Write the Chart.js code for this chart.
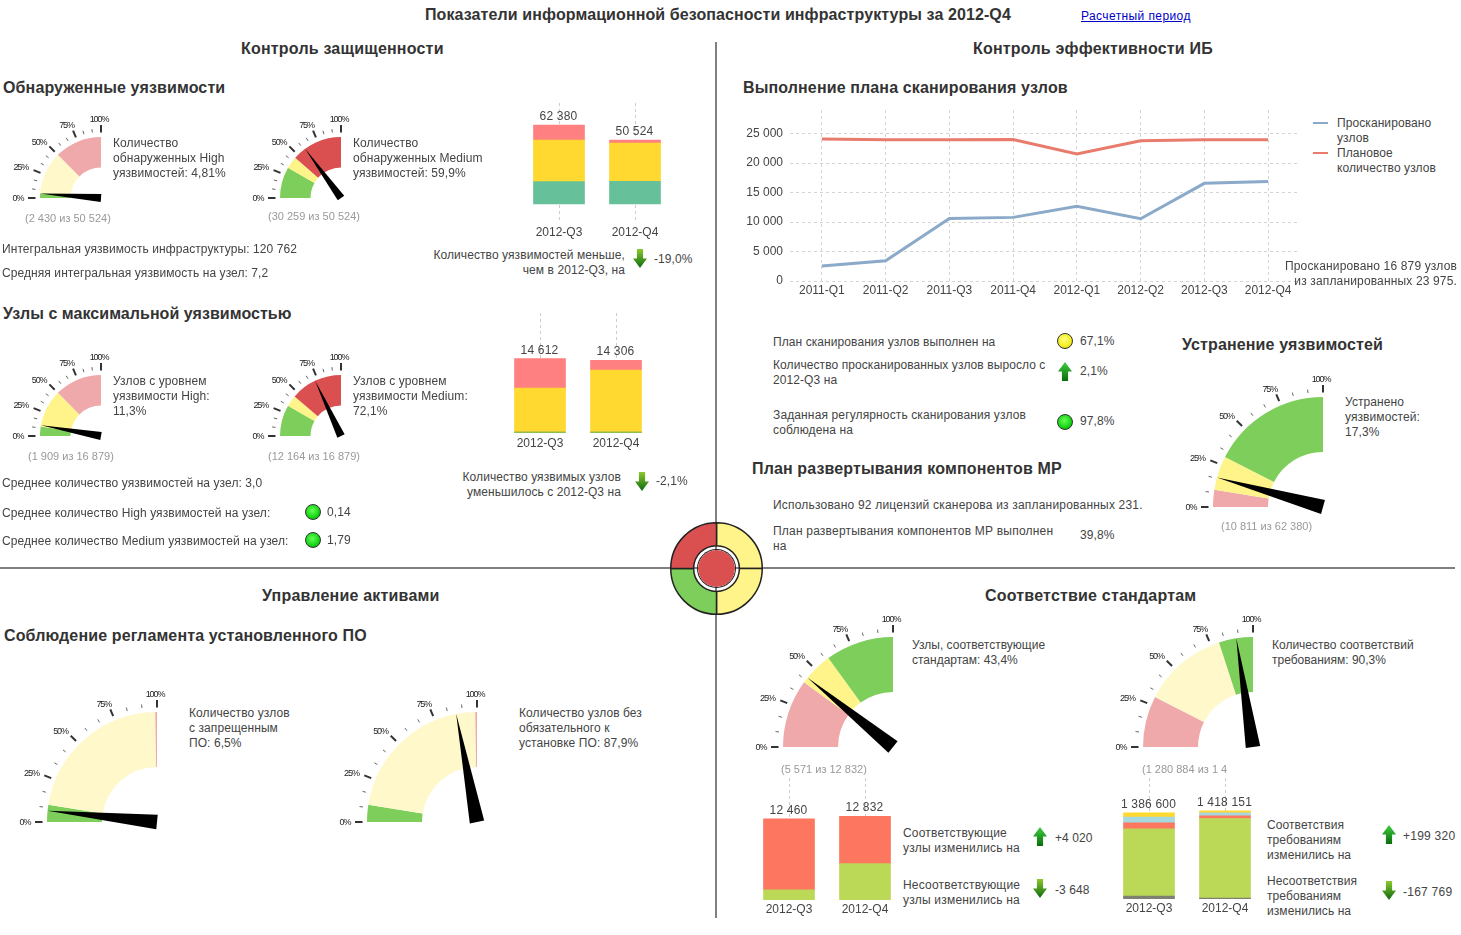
<!DOCTYPE html>
<html>
<head>
<meta charset="utf-8">
<script src="https://cdn.jsdelivr.net/npm/chart.js@4"></script>
<style>
    body { margin: 0; background: #fff; width: 1461px; height: 935px; overflow: hidden; position: relative; font-family: "Liberation Sans", Arial, sans-serif; color: #444; }
    canvas { position: absolute; }
    .t { position: absolute; white-space: pre; font-size: 12px; line-height: 15px; letter-spacing: 0.08px; }
    .rule { position: absolute; background: #808080; }
    .ball { position: absolute; width: 14px; height: 14px; border-radius: 50%; border: 1px solid #333; }
    .arrow { position: absolute; width: 14px; height: 19px; }
</style>
</head>
<body>
<script>
const gaugeTickLabels = ['0%', '25%', '50%', '75%', '100%'];
const quarters = ['2012-Q3', '2012-Q4'];
const scanPeriods = ['2011-Q1', '2011-Q2', '2011-Q3', '2011-Q4', '2012-Q1', '2012-Q2', '2012-Q3', '2012-Q4'];
const scanTicks = [0, 5000, 10000, 15000, 20000, 25000];

// zone widths in percent + needle value for every gauge
const highVulnZones = [5, 45, 50];
const highVulnValue = 4.81;
const mediumVulnZones = [33, 13, 54];
const mediumVulnValue = 59.9;
const highNodesZones = [10, 40, 50];
const highNodesValue = 11.3;
const mediumNodesZones = [33, 12, 55];
const mediumNodesValue = 72.1;
const fixedZones = [10, 20, 70];
const fixedValue = 17.3;
const forbiddenZones = [10, 89, 1];
const forbiddenValue = 6.5;
const missingZones = [10, 89, 1];
const missingValue = 87.9;
const compliantNodesZones = [40, 20, 40];
const compliantNodesValue = 43.4;
const compliantReqZones = [30, 50, 20];
const compliantReqValue = 90.3;

const vulnGreen = [17680, 17835];
const vulnYellow = [32800, 30259];
const vulnRed = [11900, 2430];

const nodesGreen = [233, 233];
const nodesYellow = [8579, 12164];
const nodesRed = [5800, 1909];

const stdGreen = [1551, 5571];
const stdRed = [10909, 7261];

const reqGray = [48000, 14000];
const reqGreen = [1081564, 1280884];
const reqRed = [96000, 45000];
const reqBlue = [92000, 48000];
const reqYellow = [69036, 30267];

const scannedNodes = [2540, 3440, 10620, 10790, 12660, 10560, 16560, 16879];
const plannedNodes = [24100, 23950, 23950, 24000, 21550, 23800, 23950, 23975];
const scanLegend = ['Просканировано\nузлов', 'Плановое\nколичество узлов'];

const statusQuadrants = [1, 1, 1, 1];
const statusScore = [1];

const C = {
    green: '#7dce5a', yellow: '#fff48a', paleYellow: '#fff8cb', red: '#da5050', pink: '#f0a9aa',
    barRed: '#ff8080', barYellow: '#ffd92f', barGreen: '#66c09a', leaf: '#bbd856', coral: '#fd7660', sky: '#a6d8e0', stone: '#808070'
};

const spaced = n => String(n).replace(/\B(?=(\d{3})+$)/g, ' ');

function addCanvas(left, top, w, h) {
    const c = document.createElement('canvas');
    c.width = w;
    c.height = h;
    c.style.left = left + 'px';
    c.style.top = top + 'px';
    c.style.width = w + 'px';
    c.style.height = h + 'px';
    document.body.appendChild(c);
    return c;
}

// y is the centre of the first line
function t(x, y, str, o = {}) {
    const d = document.createElement('div');
    d.className = 't';
    d.textContent = str;
    const lh = o.lh || 15;
    d.style.top = (y - lh / 2) + 'px';
    d.style.lineHeight = lh + 'px';
    if (o.right) {
        d.style.right = (1461 - x) + 'px';
        d.style.textAlign = 'right';
    } else {
        d.style.left = x + 'px';
    }
    if (o.size) d.style.fontSize = o.size + 'px';
    if (o.bold) d.style.fontWeight = 'bold';
    if (o.color) d.style.color = o.color;
    if (o.spacing !== undefined) d.style.letterSpacing = o.spacing + 'px';
    if (o.link) d.style.textDecoration = 'underline';
    document.body.appendChild(d);
    return d;
}

function ball(x, y, kind) {
    const d = document.createElement('div');
    d.className = 'ball';
    d.style.left = (x - 8) + 'px';
    d.style.top = (y - 8) + 'px';
    d.style.background = kind === 'yellow'
        ? 'radial-gradient(circle at 45% 40%, #ffff80 0%, #f5ee20 60%, #b5a800 100%)'
        : 'radial-gradient(circle at 45% 40%, #66ff55 0%, #14d414 60%, #058a05 100%)';
    document.body.appendChild(d);
}

function arrow(x, y, up) {
    const d = document.createElement('div');
    d.className = 'arrow';
    d.style.left = (x - 7) + 'px';
    d.style.top = (y - 10) + 'px';
    d.style.background = up ? 'linear-gradient(#3fcf3f, #0b6b0b)' : 'linear-gradient(#8fc830, #0a6a10)';
    d.style.clipPath = up
        ? 'polygon(50% 0, 100% 50%, 72% 50%, 72% 100%, 28% 100%, 28% 50%, 0 50%)'
        : 'polygon(28% 0, 72% 0, 72% 50%, 100% 50%, 50% 100%, 0 50%, 28% 50%)';
    document.body.appendChild(d);
}

function rule(x, y, w, h, color) {
    const d = document.createElement('div');
    d.className = 'rule';
    d.style.cssText = `left:${x}px;top:${y}px;width:${w}px;height:${h}px`;
    if (color) d.style.background = color;
    document.body.appendChild(d);
}

const gaugeDial = {
    id: 'gaugeDial',
    afterDraw(chart, args, opts) {
        const arc = chart.getDatasetMeta(0).data[0];
        const ctx = chart.ctx, cx = arc.x, cy = arc.y, R = arc.outerRadius;
        ctx.save();
        ctx.lineCap = 'butt';
        for (let i = 0; i <= 12; i++) {
            const a = i / 12 * Math.PI / 2, major = i % 3 === 0;
            const r1 = R + (major ? 4.5 : 5), r2 = R + (major ? 12 : 8.5);
            ctx.beginPath();
            ctx.moveTo(cx - r1 * Math.cos(a), cy - r1 * Math.sin(a));
            ctx.lineTo(cx - r2 * Math.cos(a), cy - r2 * Math.sin(a));
            ctx.lineWidth = major ? 2 : 1;
            ctx.strokeStyle = major ? '#333' : '#666';
            ctx.stroke();
        }
        ctx.font = '9px "Liberation Sans"';
        ctx.letterSpacing = '-1.1px';
        ctx.fillStyle = '#222';
        ctx.textAlign = 'center';
        ctx.textBaseline = 'middle';
        const nudgeX = [1, -3, -3.5, -3.5, -2];
        const nudgeY = [1, 2, 2.5, 2.5, 1];
        gaugeTickLabels.forEach((label, i) => {
            const a = i / 4 * Math.PI / 2, r = R + 18 + 5 * Math.cos(a);
            ctx.fillText(label, cx - r * Math.cos(a) + nudgeX[i], cy - r * Math.sin(a) + nudgeY[i]);
        });
        // needle: tip on the outer edge, wide tail on the pivot
        const a = opts.value / 100 * Math.PI / 2;
        const ux = Math.cos(a), uy = Math.sin(a);
        const w = R > 80 ? 7.3 : 4;
        ctx.beginPath();
        ctx.moveTo(cx - R * ux, cy - R * uy);
        ctx.lineTo(cx - w * uy, cy + w * ux);
        ctx.lineTo(cx + w * uy, cy - w * ux);
        ctx.closePath();
        ctx.fillStyle = '#000';
        ctx.fill();
        ctx.restore();
    }
};

function gauge(cx, cy, R, zones, value, colors) {
    const pad = { left: 46, top: 30, right: 16, bottom: 16 };
    const c = addCanvas(cx - R - pad.left, cy - R - pad.top, R + pad.left + pad.right, R + pad.top + pad.bottom);
    new Chart(c, {
        type: 'doughnut',
        data: { datasets: [{ data: zones, backgroundColor: colors, borderWidth: 0 }] },
        options: {
            responsive: false,
            animation: false,
            rotation: -90,
            circumference: 90,
            cutout: '50%',
            layout: { padding: pad },
            plugins: { legend: { display: false }, tooltip: { enabled: false }, gaugeDial: { value } }
        },
        plugins: [gaugeDial]
    });
}

const barTotals = {
    id: 'barTotals',
    afterDraw(chart) {
        const ctx = chart.ctx, last = chart.data.datasets.length - 1;
        ctx.save();
        ctx.font = '12px "Liberation Sans"';
        ctx.letterSpacing = '0.2px';
        ctx.fillStyle = '#444';
        ctx.textAlign = 'center';
        ctx.textBaseline = 'middle';
        chart.getDatasetMeta(last).data.forEach((bar, i) => {
            const total = chart.data.datasets.reduce((s, d) => s + d.data[i], 0);
            ctx.fillText(spaced(total), bar.x - 0.5, bar.y - 8.5);
        });
        ctx.restore();
    }
};

function stackedBars(firstCenter, plotTop, plotBottom, yMin, yMax, series, colors, tickPad) {
    const labelH = 20;
    const c = addCanvas(firstCenter - 38, plotTop, 152, plotBottom - plotTop + labelH);
    new Chart(c, {
        type: 'bar',
        data: {
            labels: quarters,
            datasets: series.map((s, i) => ({ data: s, backgroundColor: colors[i], barThickness: 51, borderWidth: 0 }))
        },
        options: {
            responsive: false,
            animation: false,
            layout: { padding: 0 },
            plugins: { legend: { display: false }, tooltip: { enabled: false } },
            scales: {
                x: {
                    stacked: true,
                    afterFit: s => { s.height = labelH; },
                    grid: { offset: false, color: '#ccc', drawTicks: false },
                    border: { display: false, dash: [3, 3] },
                    ticks: { padding: tickPad, maxRotation: 0, color: '#444', font: { family: 'Liberation Sans', size: 12 } }
                },
                y: { stacked: true, display: false, min: yMin, max: yMax }
            }
        },
        plugins: [barTotals]
    });
}

function scanChart() {
    const c = addCanvas(730, 110, 570, 191);
    new Chart(c, {
        type: 'line',
        data: {
            labels: scanPeriods,
            datasets: [
                { data: scannedNodes, borderColor: '#8ba9c8', borderWidth: 3, pointRadius: 0, tension: 0 },
                { data: plannedNodes, borderColor: '#e97b6d', borderWidth: 3, pointRadius: 0, tension: 0 }
            ]
        },
        options: {
            responsive: false,
            animation: false,
            layout: { padding: 0 },
            plugins: { legend: { display: false }, tooltip: { enabled: false } },
            scales: {
                x: {
                    offset: true,
                    afterFit: s => { s.height = 20; s.paddingLeft = 0; s.paddingRight = 0; },
                    grid: { offset: false, color: '#d4d4d4', drawTicks: false },
                    border: { display: false, dash: [3, 3] },
                    ticks: { padding: 2, maxRotation: 0, autoSkip: false, color: '#444', font: { family: 'Liberation Sans', size: 12 } }
                },
                y: {
                    min: 0,
                    max: 29000,
                    afterFit: s => { s.width = 60; s.paddingTop = 0; s.paddingBottom = 0; },
                    afterBuildTicks: s => { s.ticks = scanTicks.map(value => ({ value })); },
                    grid: { color: '#d4d4d4', drawTicks: false },
                    border: { display: false, dash: [3, 3] },
                    ticks: {
                        autoSkip: false,
                        padding: 7,
                        color: '#444',
                        font: { family: 'Liberation Sans', size: 12 },
                        callback: v => spaced(v)
                    }
                }
            }
        }
    });
}

function statusWheel(cx, cy) {
    const outer = addCanvas(cx - 46.5, cy - 46.5, 93, 93);
    new Chart(outer, {
        type: 'doughnut',
        data: { datasets: [{ data: statusQuadrants, backgroundColor: ['#fff48a', '#fff48a', C.green, C.red], borderColor: '#222', borderWidth: 1.5 }] },
        options: { responsive: false, animation: false, cutout: '50%', plugins: { legend: { display: false }, tooltip: { enabled: false } } }
    });
    const inner = addCanvas(cx - 18.5, cy - 18.5, 37, 37);
    inner.style.borderRadius = '50%';
    inner.style.boxShadow = '0 0 0 1px #222';
    new Chart(inner, {
        type: 'pie',
        data: { datasets: [{ data: statusScore, backgroundColor: [C.red], borderWidth: 0 }] },
        options: { responsive: false, animation: false, plugins: { legend: { display: false }, tooltip: { enabled: false } } }
    });
}

// dividers
rule(715, 42, 2, 876);
rule(0, 567, 1455, 2);

// title + headings
t(425, 15, 'Показатели информационной безопасности инфраструктуры за 2012-Q4', { size: 16, bold: true, color: '#333', lh: 18, spacing: 0.1 });
t(1081, 16, 'Расчетный период', { color: '#0000c8', link: true, spacing: 0.4 });
const head = { size: 16, bold: true, color: '#333', lh: 18, spacing: 0.2 };
t(241, 49, 'Контроль защищенности', head);
t(973, 49, 'Контроль эффективности ИБ', head);
t(262, 596, 'Управление активами', head);
t(985, 596, 'Соответствие стандартам', head);
const sub = { size: 16, bold: true, color: '#333', lh: 18, spacing: 0.13 };
t(3, 88, 'Обнаруженные уязвимости', sub);
t(3, 314, 'Узлы с максимальной уязвимостью', { ...sub, spacing: 0.05 });
t(743, 88, 'Выполнение плана сканирования узлов', sub);
t(1182, 345, 'Устранение уязвимостей', sub);
t(752, 469, 'План развертывания компонентов МР', sub);
t(4, 636, 'Соблюдение регламента установленного ПО', sub);

// gauges
gauge(100.5, 198, 61, highVulnZones, highVulnValue, [C.green, C.paleYellow, C.pink]);
gauge(340.5, 198, 61, mediumVulnZones, mediumVulnValue, [C.green, C.yellow, C.red]);
gauge(100.5, 436, 61, highNodesZones, highNodesValue, [C.green, C.yellow, C.pink]);
gauge(340.5, 436, 61, mediumNodesZones, mediumNodesValue, [C.green, C.yellow, C.red]);
gauge(1323, 507, 110, fixedZones, fixedValue, [C.pink, C.yellow, C.green]);
gauge(156.5, 822, 110, forbiddenZones, forbiddenValue, [C.green, C.paleYellow, C.pink]);
gauge(476.5, 822, 110, missingZones, missingValue, [C.green, C.paleYellow, C.pink]);
gauge(893, 747, 110, compliantNodesZones, compliantNodesValue, [C.pink, C.yellow, C.green]);
gauge(1253, 747, 110, compliantReqZones, compliantReqValue, [C.pink, C.paleYellow, C.green]);

// stacked bars
stackedBars(558.5, 103, 222, -14200, 79790, [vulnGreen, vulnYellow, vulnRed], [C.barGreen, C.barYellow, C.barRed], 3);
stackedBars(539.5, 313, 433, 0, 23600, [nodesGreen, nodesYellow, nodesRed], ['#8fbc4f', C.barYellow, C.barRed], 3);
stackedBars(788.5, 778, 900, 0, 18700, [stdGreen, stdRed], [C.leaf, C.coral], 2);
stackedBars(1148.5, 778, 899, 0, 1947000, [reqGray, reqGreen, reqRed, reqBlue, reqYellow], [C.stone, C.leaf, C.coral, C.sky, C.barYellow], 2);

scanChart();
statusWheel(716, 568);

// legend of the line chart
rule(1313, 122, 15, 2, '#8ba9c8');
rule(1313, 152, 15, 2, '#e97b6d');
t(1337, 123, scanLegend[0]);
t(1337, 153, scanLegend[1]);

// top left
const grey = { color: '#999', size: 11, spacing: 0 };
t(113, 143, 'Количество\nобнаруженных High\nуязвимостей: 4,81%');
t(353, 143, 'Количество\nобнаруженных Medium\nуязвимостей: 59,9%');
t(25, 218, '(2 430 из 50 524)', grey);
t(268, 216, '(30 259 из 50 524)', grey);
t(2, 249, 'Интегральная уязвимость инфраструктуры: 120 762');
t(2, 273, 'Средняя интегральная уязвимость на узел: 7,2');
t(625, 255, 'Количество уязвимостей меньше,\nчем в 2012-Q3, на', { right: true });
arrow(640, 259, false);
t(654, 259, '-19,0%');
t(113, 381, 'Узлов с уровнем\nуязвимости High:\n11,3%');
t(353, 381, 'Узлов с уровнем\nуязвимости Medium:\n72,1%');
t(28, 456, '(1 909 из 16 879)', grey);
t(268, 456, '(12 164 из 16 879)', grey);
t(2, 483, 'Среднее количество уязвимостей на узел: 3,0');
t(2, 513, 'Среднее количество High уязвимостей на узел:');
ball(313, 512, 'green');
t(327, 512, '0,14');
t(2, 541, 'Среднее количество Medium уязвимостей на узел:');
ball(313, 540, 'green');
t(327, 540, '1,79');
t(621, 477, 'Количество уязвимых узлов\nуменьшилось с 2012-Q3 на', { right: true });
arrow(642, 482, false);
t(656, 481, '-2,1%');

// top right
t(1457, 266, 'Просканировано 16 879 узлов\nиз запланированных 23 975.', { right: true, spacing: 0.15 });
t(773, 342, 'План сканирования узлов выполнен на');
ball(1065, 341, 'yellow');
t(1080, 341, '67,1%');
t(773, 365, 'Количество просканированных узлов выросло с\n2012-Q3 на');
arrow(1065, 372, true);
t(1080, 371, '2,1%');
t(773, 415, 'Заданная регулярность сканирования узлов\nсоблюдена на', { spacing: 0.13 });
ball(1065, 422, 'green');
t(1080, 421, '97,8%');
t(773, 505, 'Использовано 92 лицензий сканерова из запланированных 231.', { spacing: 0.2 });
t(773, 531, 'План развертывания компонентов МР выполнен\nна', { spacing: 0.2 });
t(1080, 535, '39,8%');
t(1345, 402, 'Устранено\nуязвимостей:\n17,3%');
t(1221, 526, '(10 811 из 62 380)', grey);

// bottom
t(189, 713, 'Количество узлов\nс запрещенным\nПО: 6,5%');
t(519, 713, 'Количество узлов без\nобязательного к\nустановке ПО: 87,9%');
t(912, 645, 'Узлы, соответствующие\nстандартам: 43,4%', { spacing: 0 });
t(1272, 645, 'Количество соответствий\nтребованиям: 90,3%', { spacing: 0 });
t(781, 769, '(5 571 из 12 832)', grey);
t(1142, 769, '(1 280 884 из 1 4', grey);
t(903, 833, 'Соответствующие\nузлы изменились на', { spacing: 0.2 });
arrow(1040, 837, true);
t(1055, 838, '+4 020');
t(903, 885, 'Несоответствующие\nузлы изменились на', { spacing: 0.2 });
arrow(1040, 889, false);
t(1055, 890, '-3 648');
t(1267, 825, 'Соответствия\nтребованиям\nизменились на');
arrow(1389, 835, true);
t(1403, 836, '+199 320', { spacing: 0.25 });
t(1267, 881, 'Несоответствия\nтребованиям\nизменились на');
arrow(1389, 891, false);
t(1403, 892, '-167 769', { spacing: 0.25 });
</script>
</body>
</html>
